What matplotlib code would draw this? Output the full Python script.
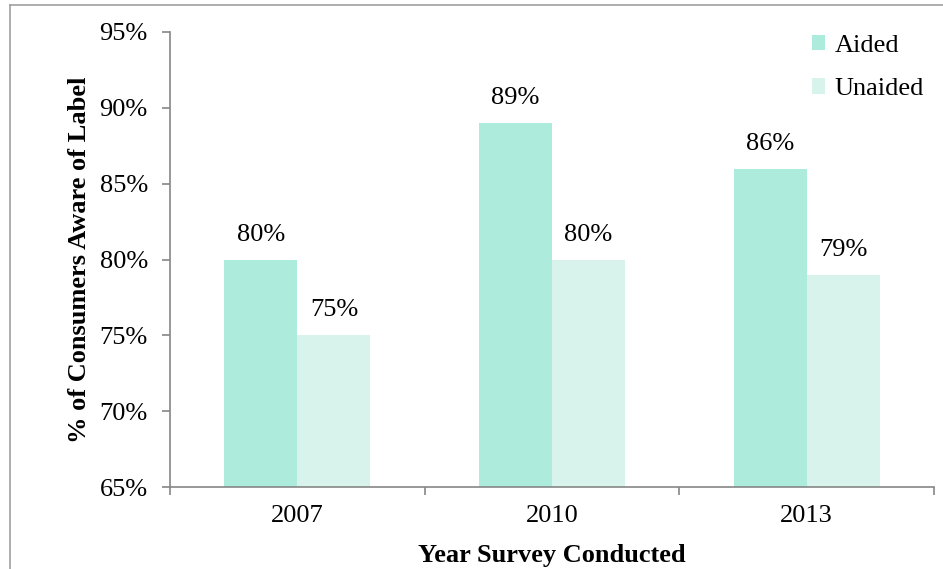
import matplotlib
matplotlib.use("Agg")
import matplotlib.pyplot as plt
from matplotlib.lines import Line2D
import numpy as np

years = ["2007", "2010", "2013"]
aided = [80, 89, 86]
unaided = [75, 80, 79]
yticks = [65, 70, 75, 80, 85, 90, 95]

plt.rcParams["font.family"] = ["Liberation Serif", "DejaVu Serif"]

fig = plt.figure(figsize=(9.43, 5.69), dpi=100)
ax = fig.add_axes([170 / 943, 1 - 487 / 569, (934 - 170) / 943, (487 - 32) / 569])

x = np.arange(len(years))
w = 0.287
c_aided = "#ADEBDC"
c_unaided = "#D8F3EC"
b1 = ax.bar(x - w / 2, aided, w, color=c_aided, label="Aided")
b2 = ax.bar(x + w / 2, unaided, w, color=c_unaided, label="Unaided")

fs = 19
for bars, vals in ((b1, aided), (b2, unaided)):
    for rect, v in zip(bars, vals):
        ax.annotate(f"{v}%", (rect.get_x() + rect.get_width() / 2, v),
                    xytext=(0, 10), textcoords="offset points",
                    ha="center", va="bottom", fontsize=fs)

ax.set_ylim(65, 95)
ax.set_yticks(yticks)
ax.set_yticklabels([f"{t}%" for t in yticks], fontsize=fs)
ax.set_xlim(-0.5, 2.5)
ax.set_xticks([-0.5, 0.5, 1.5, 2.5])
ax.set_xticklabels([])
ax.set_xticks(x, minor=True)
ax.set_xticklabels(years, minor=True, fontsize=fs)
ax.tick_params(axis="x", which="minor", length=0, pad=13)
ax.tick_params(axis="x", which="major", length=6, direction="out", color="#868686", width=1.2)
ax.tick_params(axis="y", length=6, direction="out", color="#868686", width=1.2, pad=10)

for s in ("top", "right"):
    ax.spines[s].set_visible(False)
for s in ("left", "bottom"):
    ax.spines[s].set_color("#868686")
    ax.spines[s].set_linewidth(1.2)

ax.set_ylabel("% of Consumers Aware of Label", fontsize=19, fontweight="bold", labelpad=6)
ax.set_xlabel("Year Survey Conducted", fontsize=19, fontweight="bold", labelpad=12)

ax.legend(loc="upper right", bbox_to_anchor=(1.018, 1.045), frameon=False, fontsize=fs,
          handlelength=0.5, handleheight=0.5, handletextpad=0.35, labelspacing=0.8)

# thin frame around the chart area
fig.add_artist(Line2D([10 / 943, 1], [1 - 5 / 569, 1 - 5 / 569], transform=fig.transFigure,
                      color="#A0A0A0", lw=1.2))
fig.add_artist(Line2D([10 / 943, 10 / 943], [0, 1 - 5 / 569], transform=fig.transFigure,
                      color="#A0A0A0", lw=1.2))

fig.savefig("out.png", dpi=100)
